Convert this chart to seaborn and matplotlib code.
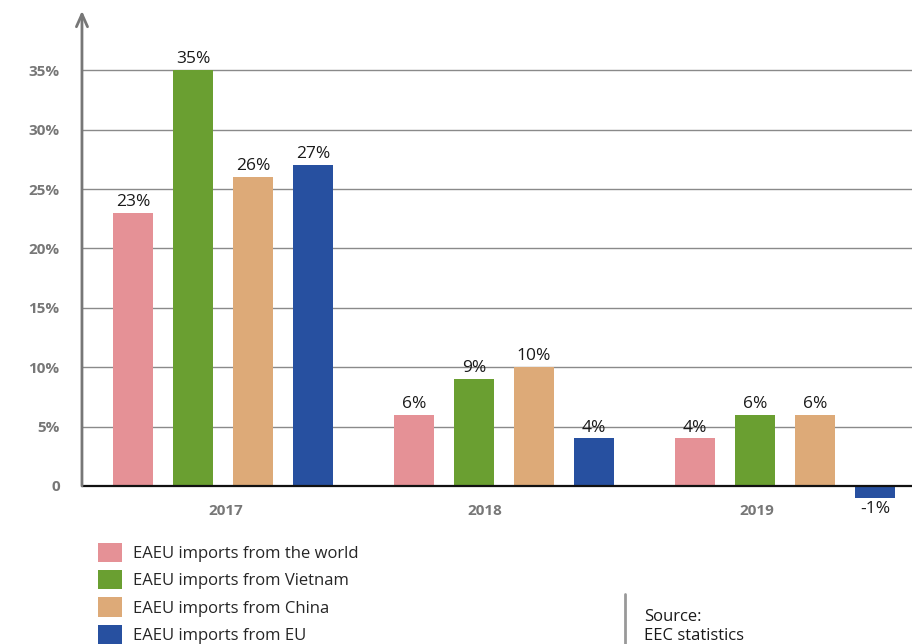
import pandas as pd
import numpy as np
import matplotlib
matplotlib.use('Agg')
import matplotlib.pyplot as plt
import seaborn as sns

years = ['2017', '2018', '2019']
series = ['EAEU imports from the world', 'EAEU imports from Vietnam',
          'EAEU imports from China', 'EAEU imports from EU']
world = [23, 6, 4]
vietnam = [35, 9, 6]
china = [26, 10, 6]
eu = [27, 4, -1]
colors = ['#E59196', '#6A9F31', '#DDAA78', '#2750A0']
yticks = [0, 5, 10, 15, 20, 25, 30, 35]
ytick_labels = ['0', '5%', '10%', '15%', '20%', '25%', '30%', '35%']

df = pd.DataFrame({
    'year': years * 4,
    'series': np.repeat(series, 3),
    'value': world + vietnam + china + eu,
})

sns.set_style('white')
plt.rcParams['font.family'] = ['Open Sans', 'DejaVu Sans']

fig = plt.figure(figsize=(9.2, 6.44), dpi=100)
ax = fig.add_axes([0.0891, 0.2177, 0.9022, 0.7655])

sns.barplot(data=df, x='year', y='value', hue='series', palette=colors,
            width=0.854, gap=0.333, saturation=1, linewidth=0, ax=ax, legend=True)

for cont in ax.containers:
    ax.bar_label(cont, fmt='%d%%', padding=2, fontsize=12.5, color='#1a1a1a')

ax.set_xlim(-0.502, 2.452)
ax.set_ylim(-1.5, 40)
ax.set_yticks(yticks)
ax.set_yticklabels(ytick_labels, fontsize=11, fontweight='bold', color='#777777')
ax.tick_params(axis='y', length=0, pad=16)
ax.set_xticks([0.01, 0.93, 1.9])
ax.set_xticklabels(years, fontsize=11, fontweight='bold', color='#777777')
ax.tick_params(axis='x', length=0, pad=0)
ax.set_xlabel('')
ax.set_ylabel('')

for y in yticks[1:]:
    ax.axhline(y, color='#8a8a8a', lw=1, zorder=0)
ax.axhline(0, color='#111111', lw=1.6, zorder=3)

for s in ax.spines.values():
    s.set_visible(False)
ax.annotate('', xy=(0, 40), xytext=(0, 0),
            xycoords=ax.get_yaxis_transform(), textcoords=ax.get_yaxis_transform(),
            arrowprops=dict(arrowstyle='->,head_length=0.9,head_width=0.4',
                            color='#777777', lw=2, shrinkA=0, shrinkB=0),
            annotation_clip=False)

handles, labels = ax.get_legend_handles_labels()
ax.get_legend().remove()
fig.legend(handles, labels, loc='upper left', bbox_to_anchor=(0.098, 0.170),
           frameon=False, fontsize=12, handlelength=1.4, handleheight=1.4,
           labelspacing=0.48, handletextpad=0.7, borderpad=0)

fig.add_artist(plt.Line2D([0.679, 0.679], [0, 0.077], color='#999999', lw=2))
fig.text(0.700, 0.0, 'Source:\nEEC statistics', fontsize=12, color='#1a1a1a',
         va='bottom', ha='left', linespacing=1.25)

fig.savefig('out.png', dpi=100)
